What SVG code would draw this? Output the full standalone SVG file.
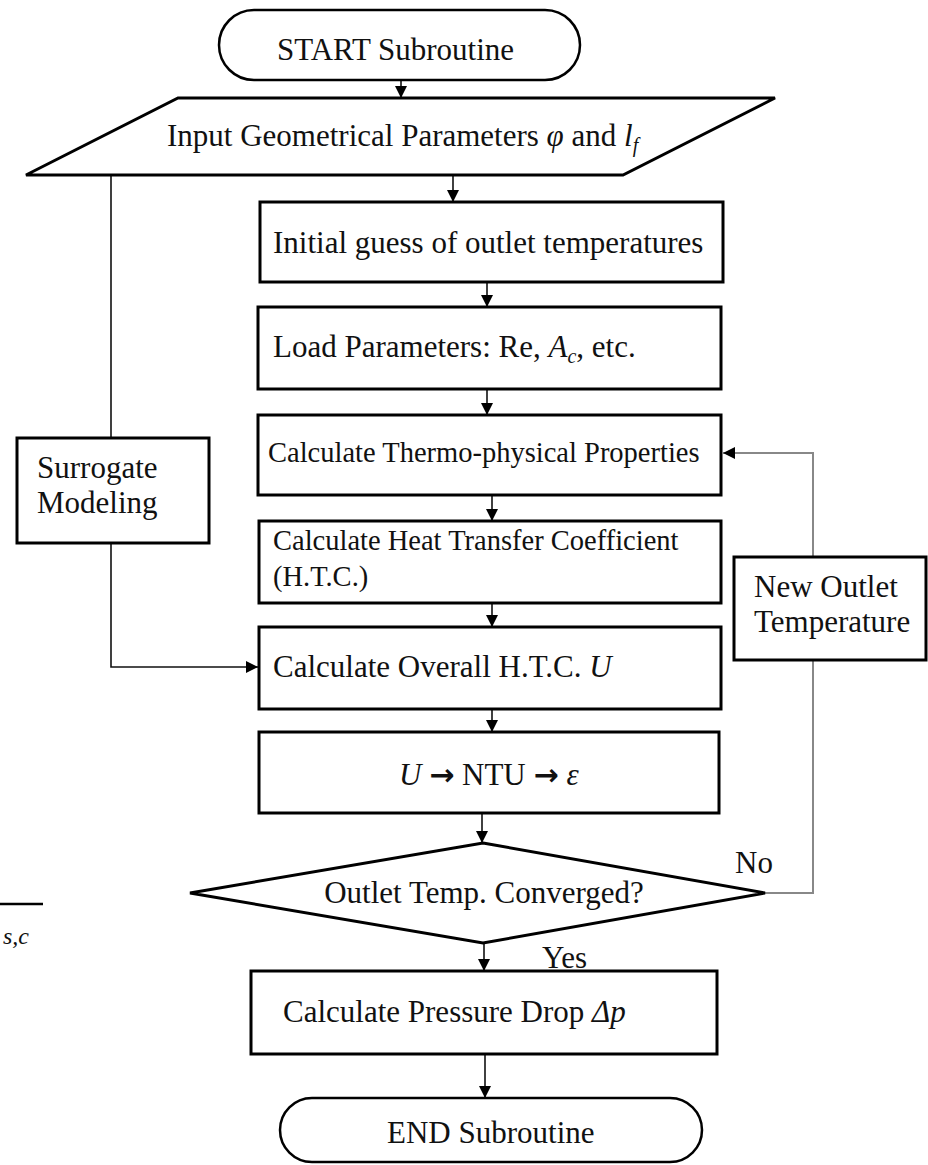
<svg xmlns="http://www.w3.org/2000/svg" width="928" height="1165" viewBox="0 0 928 1165">
<defs>
<style>
.shape{fill:#fff;stroke:#000;stroke-width:3}
.pill{fill:#fff;stroke:#000;stroke-width:2.5}
.t{font-family:"Liberation Serif","Times New Roman",serif;font-size:31px;fill:#111}
.t28{font-family:"Liberation Serif","Times New Roman",serif;font-size:28.5px;fill:#111}
.it{font-style:italic}
.conn{fill:none;stroke:#111;stroke-width:1.6}
.fb{fill:none;stroke:#888;stroke-width:2}
</style>
<marker id="ah" viewBox="0 0 10 10" refX="10" refY="5" markerWidth="12" markerHeight="12" markerUnits="userSpaceOnUse" orient="auto">
<path d="M0,0 L10,5 L0,10 z" fill="#000"/>
</marker>
</defs>
<rect width="928" height="1165" fill="#fff"/>

<g id="connectors">
<line class="conn" x1="401" y1="80" x2="401" y2="98" marker-end="url(#ah)"/>
<line class="conn" x1="453" y1="175" x2="453" y2="202" marker-end="url(#ah)"/>
<line class="conn" x1="487" y1="282" x2="487" y2="307" marker-end="url(#ah)"/>
<line class="conn" x1="487" y1="389" x2="487" y2="415" marker-end="url(#ah)"/>
<line class="conn" x1="492" y1="495" x2="492" y2="521" marker-end="url(#ah)"/>
<line class="conn" x1="492" y1="603" x2="492" y2="627" marker-end="url(#ah)"/>
<line class="conn" x1="492" y1="709" x2="492" y2="732" marker-end="url(#ah)"/>
<line class="conn" x1="482" y1="813" x2="482" y2="843" marker-end="url(#ah)"/>
<line class="conn" x1="484" y1="943" x2="484" y2="971" marker-end="url(#ah)"/>
<line class="conn" x1="485" y1="1054" x2="485" y2="1098" marker-end="url(#ah)"/>
<path class="conn" d="M111,175 L111,667 L258,667" marker-end="url(#ah)"/>
<path class="fb" d="M765,893 L813,893 L813,453 L723,453" marker-end="url(#ah)"/>
</g>

<g id="start">
<rect class="pill" x="219" y="10" width="361" height="70" rx="35" ry="35"/>
<text class="t" x="277" y="60">START Subroutine</text>
</g>

<g id="input">
<polygon class="shape" points="178,98 775,98 623,175 26,175"/>
<text class="t" x="167" y="146">Input Geometrical Parameters <tspan class="it">φ</tspan> and <tspan class="it">l</tspan><tspan class="it" font-size="20" dy="6">f</tspan></text>
</g>

<g id="initial">
<rect class="shape" x="260" y="202" width="463" height="80"/>
<text class="t" x="273" y="253">Initial guess of outlet temperatures</text>
</g>

<g id="load">
<rect class="shape" x="258" y="307" width="463" height="82"/>
<text class="t" x="273" y="357">Load Parameters: Re, <tspan class="it">A</tspan><tspan class="it" font-size="20" dy="6">c</tspan><tspan dy="-6">, etc.</tspan></text>
</g>

<g id="thermo">
<rect class="shape" x="258" y="415" width="463" height="80"/>
<text class="t28" x="268" y="462">Calculate Thermo-physical Properties</text>
</g>

<g id="htc">
<rect class="shape" x="259" y="521" width="462" height="82"/>
<text class="t28" x="273" y="550">Calculate Heat Transfer Coefficient</text>
<text class="t28" x="273" y="586">(H.T.C.)</text>
</g>

<g id="overall">
<rect class="shape" x="259" y="627" width="462" height="82"/>
<text class="t" x="273" y="677">Calculate Overall H.T.C. <tspan class="it">U</tspan></text>
</g>

<g id="ntu">
<rect class="shape" x="259" y="732" width="460" height="81"/>
<text class="t" x="399" y="785"><tspan class="it">U</tspan> <tspan font-family="DejaVu Sans,sans-serif" font-weight="bold" font-size="30">→</tspan> NTU <tspan font-family="DejaVu Sans,sans-serif" font-weight="bold" font-size="30">→</tspan> <tspan class="it">ε</tspan></text>
</g>

<g id="decision">
<polygon class="shape" points="483,843 765,893 483,943 190,893"/>
<text class="t" x="484" y="903" text-anchor="middle">Outlet Temp. Converged?</text>
</g>

<g id="label-no">
<text class="t" x="735" y="873">No</text>
</g>
<g id="label-yes">
<text class="t" x="542" y="968" font-size="28">Yes</text>
</g>

<g id="pressure">
<rect class="shape" x="251" y="971" width="466" height="83"/>
<text class="t" x="283" y="1022">Calculate Pressure Drop <tspan class="it">Δp</tspan></text>
</g>

<g id="end">
<rect class="pill" x="280" y="1098" width="422" height="64" rx="32" ry="32"/>
<text class="t" x="387" y="1143">END Subroutine</text>
</g>

<g id="surrogate">
<rect class="shape" x="17" y="438" width="192" height="105"/>
<text class="t" x="37" y="478">Surrogate</text>
<text class="t" x="37" y="513">Modeling</text>
</g>

<g id="newoutlet">
<rect class="shape" x="734" y="557" width="192" height="103"/>
<text class="t" x="754" y="597">New Outlet</text>
<text class="t" x="754" y="632">Temperature</text>
</g>

<g id="artifact">
<line x1="0" y1="904" x2="43" y2="904" stroke="#000" stroke-width="2.5"/>
<text x="3" y="944" font-family="Liberation Serif,serif" font-style="italic" font-size="24" fill="#111">s,c</text>
</g>
</svg>
